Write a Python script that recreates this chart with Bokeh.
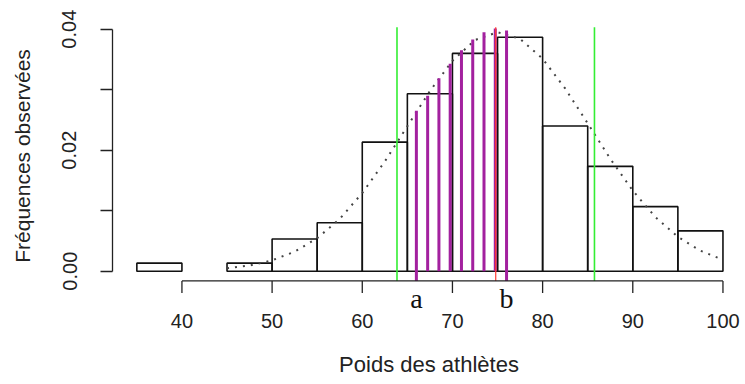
from bokeh.plotting import figure
from bokeh.models import Range1d, FixedTicker, CustomJSTickFormatter, ColumnDataSource
from bokeh.core.properties import value
from bokeh.embed import file_html
from bokeh.resources import INLINE

# ---- data ----
bin_left = [35, 40, 45, 50, 55, 60, 65, 70, 75, 80, 85, 90, 95]
bin_right = [40, 45, 50, 55, 60, 65, 70, 75, 80, 85, 90, 95, 100]
density = [0.00133, 0.0, 0.00133, 0.00533, 0.00800, 0.02133, 0.02933,
           0.03600, 0.03867, 0.02400, 0.01733, 0.01067, 0.00667]

curve_x = [45, 47.5, 50, 52.5, 55, 57.5, 60, 62.5, 65, 67.5, 70, 72.5,
           75, 77.5, 80, 82.5, 85, 87.5, 90, 92.5, 95, 97.5, 100]
curve_y = [0.00047, 0.00094, 0.00180, 0.00323, 0.00545, 0.00865, 0.01292,
           0.01814, 0.02396, 0.02977, 0.03477, 0.03821, 0.03950, 0.03840,
           0.03512, 0.03020, 0.02443, 0.01859, 0.01331, 0.00895, 0.00567,
           0.00338, 0.00189]

purple_x = [66, 67.25, 68.5, 69.75, 71, 72.25, 73.5, 74.75, 76]
purple_top = [0.0265, 0.0290, 0.0319, 0.0343, 0.0365, 0.0383, 0.0395, 0.0401, 0.0398]

green_x = [63.85, 85.75]
red_x = [74.8]
line_top = 0.0403

ab_labels = ["a", "b"]
ab_x = [66, 76]

x_ticks = [40, 50, 60, 70, 80, 90, 100]
y_ticks = [0.0, 0.01, 0.02, 0.03, 0.04]

x_title = "Poids des athlètes"
y_title = "Fréquences observées"

# ---- layout / scales ----
FRAME_W, FRAME_H = 633, 311
B_LEFT, B_BOTTOM = 112, 73
x_lo, x_hi = 32.3, 102.5
y_lo, y_hi = -0.00666, 0.04474          # frame extended so that "a"/"b" can be drawn
px_per_y = FRAME_H / (y_hi - y_lo)
axis_y = -0.0016                         # R-style x axis at the bottom of the plot region
tick_len = 12 / px_per_y
label_y = axis_y - 17.5 / px_per_y       # anchor of the "a"/"b" labels

p = figure(frame_width=FRAME_W, frame_height=FRAME_H, output_backend="svg",
           toolbar_location=None,
           x_range=Range1d(x_lo, x_hi), y_range=Range1d(y_lo, y_hi),
           min_border_left=B_LEFT, min_border_right=0, min_border_top=0,
           min_border_bottom=B_BOTTOM)
p.outline_line_color = None
p.xgrid.visible = False
p.ygrid.visible = False
p.background_fill_color = "white"
p.border_fill_color = "white"

# histogram (skip empty bins: R draws nothing for them)
src = ColumnDataSource(dict(
    left=[l for l, d in zip(bin_left, density) if d > 0],
    right=[r for r, d in zip(bin_right, density) if d > 0],
    top=[d for d in density if d > 0]))
p.quad(left="left", right="right", top="top", bottom=0, source=src,
       fill_color=None, line_color="#111111", line_width=1.6)

# normal curve (dotted)
p.line(curve_x, curve_y, line_color="#444444", line_width=2, line_dash="2 6")

# green lines
p.segment(x0=green_x, y0=[axis_y] * len(green_x), x1=green_x, y1=[line_top] * len(green_x),
          line_color="#33ee33", line_width=1.6)

# purple lines
bottoms = [axis_y if i in (0, len(purple_x) - 1) else 0 for i in range(len(purple_x))]
p.segment(x0=purple_x, y0=bottoms, x1=purple_x, y1=purple_top,
          line_color="#a3219f", line_width=3)

# red line
p.segment(x0=red_x, y0=[axis_y], x1=red_x, y1=[line_top], line_color="#ff3b30", line_width=1.2)

# a / b labels
p.text(x=ab_x, y=[label_y] * len(ab_x), text=ab_labels, text_align="center",
       text_baseline="alphabetic", text_font=value("Liberation Serif"),
       text_font_size="28px", text_color="#111111")

# x axis line and ticks (R style, drawn at the bottom of the plot region)
p.segment(x0=[x_ticks[0]], y0=[axis_y], x1=[x_ticks[-1]], y1=[axis_y],
          line_color="#222222", line_width=1.3)
p.segment(x0=x_ticks, y0=[axis_y] * len(x_ticks), x1=x_ticks,
          y1=[axis_y - tick_len] * len(x_ticks), line_color="#222222", line_width=1.3)

# bokeh x axis: only tick labels + title
ax = p.xaxis[0]
ax.ticker = FixedTicker(ticks=x_ticks)
ax.minor_tick_line_color = None
ax.major_tick_line_color = None
ax.axis_line_color = None
ax.major_tick_in = 0
ax.major_tick_out = 0
ax.major_label_standoff = 2
ax.axis_label = x_title
ax.axis_label_standoff = 21

ay = p.yaxis[0]
ay.ticker = FixedTicker(ticks=y_ticks)
ay.bounds = (y_ticks[0], y_ticks[-1])
ay.minor_tick_line_color = None
ay.major_tick_in = 0
ay.major_tick_out = 12
ay.major_label_standoff = 24
ay.major_label_orientation = "parallel"
ay.formatter = CustomJSTickFormatter(code="""
    const k = Math.round(tick * 100);
    return (k % 2 === 0) ? tick.toFixed(2) : "";
""")
ay.axis_label = y_title
ay.axis_label_standoff = 26
ay.axis_line_color = "#222222"
ay.major_tick_line_color = "#222222"
ay.axis_line_width = 1.3
ay.major_tick_line_width = 1.3

for a in (ax, ay):
    a.major_label_text_font = "Liberation Sans"
    a.major_label_text_font_size = "20px"
    a.major_label_text_color = "#222222"
    a.axis_label_text_font = "Liberation Sans"
    a.axis_label_text_font_style = "normal"
    a.axis_label_text_color = "#222222"
ax.axis_label_text_font_size = "22px"
ay.axis_label_text_font_size = "21px"

open("out.html", "w").write(file_html(p, INLINE))
